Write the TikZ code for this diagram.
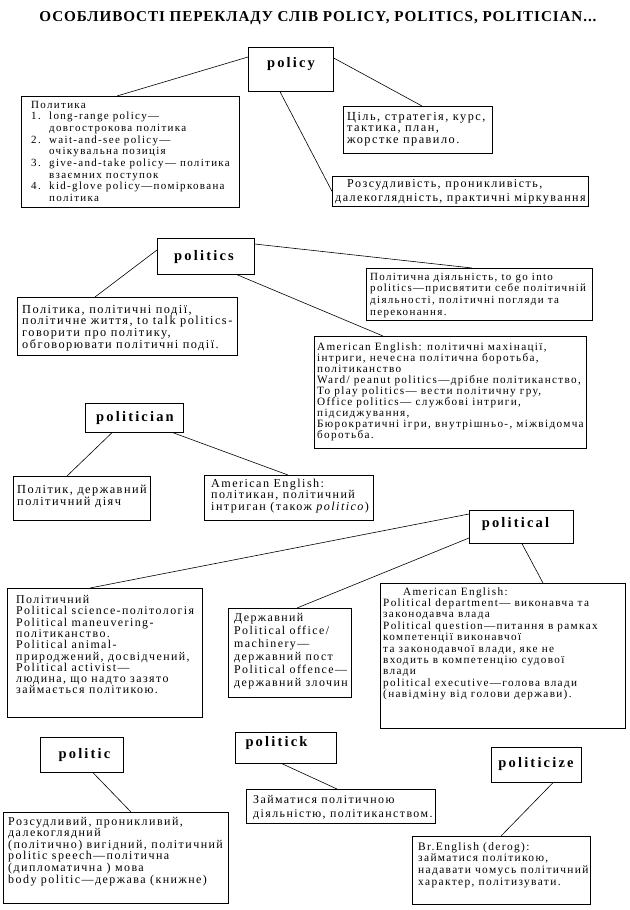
\documentclass[tikz,border=0pt]{standalone}
\usepackage{fontspec}
\usepackage{graphicx}
\usetikzlibrary{calc}
\setmainfont{Liberation Serif}
\newfontfamily\bodyfamily[LetterSpace=12]{Liberation Serif}
\newfontfamily\headfamily[LetterSpace=15]{Liberation Serif}
\newfontfamily\titlefamily[LetterSpace=6]{Liberation Serif}
\newcommand{\txtlines}[3]{\fontsize{#1}{#2}\selectfont\begin{tabular}[t]{@{}l@{}}#3\end{tabular}}
\newcommand{\numit}[1]{\makebox[18pt][l]{#1}}
\newcommand{\indit}{\hspace*{18pt}}
\tikzset{
  box/.style={draw, line width=0.7pt, anchor=north west, inner sep=0pt},
  link/.style={line width=0.6pt},
  txt/.style={anchor=base west, inner sep=0pt, font=\bodyfamily},
  hd/.style={anchor=base, inner sep=0pt, font=\headfamily\bfseries\fontsize{14.5}{16}\selectfont}
}
\begin{document}
\begin{tikzpicture}[x=1pt,y=-1pt]
\useasboundingbox (0,0) rectangle (629,910);
\fill[white] (0,0) rectangle (629,910);
% title
\node[anchor=base, inner sep=0pt] (title) at (318,21) {\resizebox{557pt}{10pt}{\titlefamily\bfseries ОСОБЛИВОСТІ ПЕРЕКЛАДУ СЛІВ POLICY, POLITICS, POLITICIAN...}};
% ---------- policy
\node[box, minimum width=85pt, minimum height=44pt] (policy) at (248,47) {};
\node[hd] (policyT) at (291,67) {policy};
\node[box, minimum width=218pt, minimum height=111pt] (polA) at (21,96) {};
\node[txt] (polAT) at (31,108) {\txtlines{11}{11.7}{Политика\\
\numit{1.}long-range policy—\\
\indit довгострокова політика\\
\numit{2.}wait-and-see policy—\\
\indit очікувальна позиція\\
\numit{3.}give-and-take policy— політика\\
\indit взаємних поступок\\
\numit{4.}kid-glove policy—поміркована\\
\indit політика}};
\node[box, minimum width=149pt, minimum height=47pt] (polB) at (343,106) {};
\node[txt] (polBT) at (347,120) {\txtlines{12.3}{11.7}{Ціль, стратегія, курс,\\
тактика, план,\\
жорстке правило.}};
\node[box, minimum width=256pt, minimum height=30pt] (polC) at (332,176) {};
\node[txt] (polCT) at (335,187) {\txtlines{12.1}{14}{\hspace*{12pt}Розсудливість, проникливість,\\
далекоглядність, практичні міркування}};
\draw[link] ($(policy.north west)+(0,10)$) -- ($(polA.north west)+(96,0)$);
\draw[link] ($(policy.north east)+(0,11)$) -- ($(polB.north west)+(79,0)$);
\draw[link] ($(policy.south west)+(32,0)$) -- (polC.west);
% ---------- politics
\node[box, minimum width=97pt, minimum height=36pt] (politics) at (157,238) {};
\node[hd] (politicsT) at (204,260) {politics};
\node[box, minimum width=220pt, minimum height=58pt] (ticsA) at (17,297) {};
\node[txt] (ticsAT) at (22,313) {\txtlines{12.3}{11.5}{Політика, політичні події,\\
політичне життя, to talk politics-\\
говорити про політику,\\
обговорювати політичні події.}};
\node[box, minimum width=226pt, minimum height=52pt] (ticsB) at (366,268) {};
\node[txt] (ticsBT) at (370,280) {\txtlines{11}{11.7}{Політична діяльність, to go into\\
politics—присвятити себе політичній\\
діяльності, політичні погляди та\\
переконання.}};
\node[box, minimum width=272pt, minimum height=112pt] (ticsC) at (314,336) {};
\node[txt] (ticsCT) at (317,350) {\txtlines{11.2}{10.9}{American English: політичні махінації,\\
інтриги, нечесна політична боротьба,\\
політиканство\\
Ward/ peanut politics—дрібне політиканство,\\
To play politics— вести політичну гру,\\
Office politics— службові інтриги,\\
підсиджування,\\
Бюрократичні ігри, внутрішньо-, міжвідомча\\
боротьба.}};
\draw[link] ($(politics.north west)+(0,12)$) -- ($(ticsA.north west)+(78,0)$);
\draw[link] ($(politics.north east)+(0,6)$) -- ($(ticsB.north west)+(106,0)$);
\draw[link] ($(politics.south west)+(80,0)$) -- ($(ticsC.north west)+(69,0)$);
% ---------- politician
\node[box, minimum width=98pt, minimum height=29pt] (politician) at (85,403) {};
\node[hd] (politicianT) at (135,421) {politician};
\node[box, minimum width=137pt, minimum height=44pt] (cianA) at (13,476) {};
\node[txt] (cianAT) at (17,493) {\txtlines{12.3}{12}{Політик, державний\\
політичний діяч}};
\node[box, minimum width=169pt, minimum height=45pt] (cianB) at (204,475) {};
\node[txt] (cianBT) at (211,487) {\txtlines{12.1}{11.5}{American English:\\
політикан, політичний\\
інтриган (також \textit{politico})}};
\draw[link] ($(politician.south west)+(27,0)$) -- ($(cianA.north west)+(54,0)$);
\draw[link] ($(politician.south west)+(88,0)$) -- ($(cianB.north west)+(84,0)$);
% ---------- political
\node[box, minimum width=104pt, minimum height=33pt] (political) at (469,510) {};
\node[hd] (politicalT) at (515.5,527) {political};
\node[box, minimum width=195pt, minimum height=129pt] (calA) at (7,588) {};
\node[txt] (calAT) at (16,603) {\txtlines{11.9}{10.9}{Політичний\\
Political science-політологія\\
Political maneuvering-\\
політиканство.\\
Political animal-\\
природжений, досвідчений,\\
Political activist—\\
людина, що надто зазято\\
займається політикою.}};
\node[box, minimum width=123pt, minimum height=89pt] (calB) at (228,608) {};
\node[txt] (calBT) at (234,621) {\txtlines{11.9}{13}{Державний\\
Political office/\\
machinery—\\
державний пост\\
Political offence—\\
державний злочин}};
\node[box, minimum width=245pt, minimum height=145pt] (calC) at (380,583) {};
\node[txt] (calCT) at (383,595) {\txtlines{11.2}{11.4}{\hspace*{20pt}American English:\\
Political department— виконавча та\\
законодавча влада\\
Political question—питання в рамках\\
компетенції виконавчої\\
та законодавчої влади, яке не\\
входить в компетенцію судової\\
влади\\
political executive—голова влади\\
(навідміну від голови держави).}};
\draw[link] ($(political.north west)+(0,4)$) -- ($(calA.north west)+(83,0)$);
\draw[link] ($(political.north west)+(0,28)$) -- ($(calB.north west)+(69,0)$);
\draw[link] ($(political.south west)+(53,0)$) -- ($(calC.north west)+(163,0)$);
% ---------- politic
\node[box, minimum width=83pt, minimum height=35pt] (politic) at (40,737) {};
\node[hd] (politicT) at (84.5,758) {politic};
\node[box, minimum width=225pt, minimum height=91pt] (ticA) at (3,812) {};
\node[txt] (ticAT) at (8,825) {\txtlines{12}{11.2}{Розсудливий, проникливий,\\
далекоглядний\\
(політично) вигідний, політичний\\
politic speech—політична\\
(дипломатична ) мова\\
body politic—держава (книжне)}};
\draw[link] ($(politic.south west)+(53,0)$) -- ($(ticA.north west)+(128,0)$);
% ---------- politick
\node[box, minimum width=101pt, minimum height=31pt] (politick) at (235,732) {};
\node[hd] (politickT) at (276.5,746) {politick};
\node[box, minimum width=189pt, minimum height=34pt] (tickA) at (246,789) {};
\node[txt] (tickAT) at (253,803) {\txtlines{11.9}{14}{Займатися політичною\\
діяльністю, політиканством.}};
\draw[link] ($(politick.south west)+(47,0)$) -- ($(tickA.north west)+(91,0)$);
% ---------- politicize
\node[box, minimum width=90pt, minimum height=35pt] (politicize) at (491,747) {};
\node[hd] (politicizeT) at (536,767) {politicize};
\node[box, minimum width=178pt, minimum height=68pt] (cizeA) at (412,836) {};
\node[txt] (cizeAT) at (418,850) {\txtlines{11.4}{11.7}{Br.English (derog):\\
займатися політикою,\\
надавати чомусь політичний\\
характер, політизувати.}};
\draw[link] ($(politicize.south west)+(62,0)$) -- ($(cizeA.north west)+(89,0)$);
\end{tikzpicture}
\end{document}
